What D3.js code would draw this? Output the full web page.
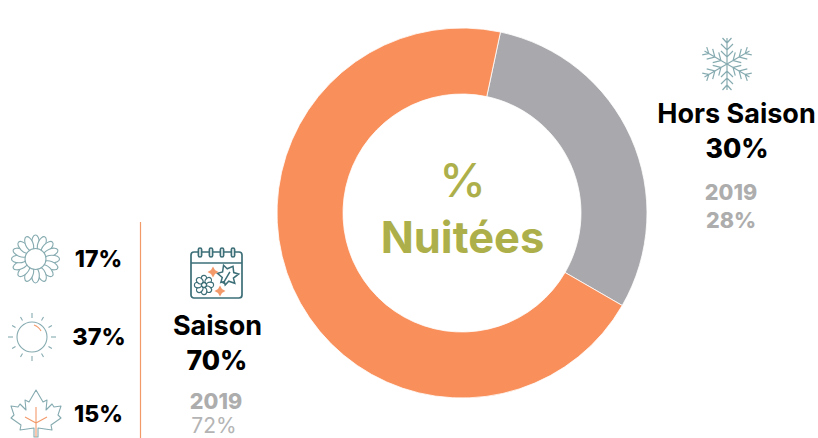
<!DOCTYPE html>
<html><head><meta charset="utf-8">
<script src="https://cdnjs.cloudflare.com/ajax/libs/d3/7.8.5/d3.min.js"></script>
<style>html,body{margin:0;padding:0;background:#fff}svg{display:block}text{font-family:Inter,"Noto Sans",sans-serif;text-anchor:middle}</style>
</head><body><svg id="c" width="818" height="438"></svg>
<script>
const segments = ["Hors Saison","Saison"];
const shares = [30,70];
const segmentColors = ["#a9a8ac","#f98f5a"];
const startDeg = 12;
const centerLines = ["%","Nuitées"];
const seasonShares = ["17%","37%","15%"];
const teal="#3d6f78", paleTeal="#86abb0", orange="#f39a6b";
const svg=d3.select("#c");
const cx=462,cy=213;
const pie=d3.pie().sort(null).startAngle(startDeg*Math.PI/180).endAngle((startDeg+360)*Math.PI/180);
const arc=d3.arc().innerRadius(119).outerRadius(185);
svg.append("g").attr("transform",`translate(${cx},${cy})`).selectAll("path").data(pie(shares)).join("path")
  .attr("d",arc).attr("fill",(d,i)=>segmentColors[i]).attr("stroke","#fff").attr("stroke-width",.8);

function t(x,y,s,size,fill,w,font){return svg.append("text").attr("x",x).attr("y",y).attr("font-size",size).attr("fill",fill).attr("font-weight",w).attr("font-family",font||null).text(s);}
// centre
t(462.5,197,centerLines[0],47,"#adb04a",500,"Lato");
t(462.5,253,centerLines[1],43.5,"#adb04a",700,"Lato");
// Hors saison
t(736.5,123,"Hors Saison",27,"#000",700);
t(737,158,"30%",26.5,"#000",800);
t(731,200,"2019",21.5,"#adadad",800);
t(731,228,"28%",21.5,"#adadad",800);
// Saison
t(217.5,335,"Saison",27,"#000",700);
t(217,370,"70%",26.5,"#000",800);
t(216,409,"2019",21.5,"#adadad",800);
t(214,432.5,"72%",21,"#b4b4b4",400);
// season shares
t(98.5,267,seasonShares[0],23,"#000",800);
t(99,345,seasonShares[1],23.5,"#000",800);
t(98.5,422,seasonShares[2],23,"#000",800);
// divider
svg.append("line").attr("x1",140.5).attr("x2",140.5).attr("y1",222).attr("y2",438).attr("stroke",orange).attr("stroke-width",1.2);

// snowflake
const sn=svg.append("g").attr("transform","translate(727,64)").attr("stroke",paleTeal).attr("stroke-width",1.2).attr("fill","none");
d3.range(6).forEach(i=>{const g=sn.append("g").attr("transform",`rotate(${i*60})`);
 g.append("path").attr("d","M0,0V-26M-4.5,-26L0,-21L4.5,-26M-6,-20L0,-14L6,-20M-6,-13L0,-7L6,-13");
});
// flower
const fl=svg.append("g").attr("transform","translate(35.5,259)").attr("stroke",paleTeal).attr("stroke-width",1.1).attr("fill","#fff");
d3.range(16).forEach(i=>fl.append("ellipse").attr("transform",`rotate(${i*360/16}) translate(0,-16.5)`).attr("rx",3.8).attr("ry",7.5));
fl.append("circle").attr("r",10.5);
// sun
const su=svg.append("g").attr("transform","translate(32,337)").attr("stroke",paleTeal).attr("stroke-width",1.1).attr("fill","none");
su.append("circle").attr("r",15);
d3.range(12).forEach(i=>su.append("line").attr("transform",`rotate(${i*30})`).attr("y1",-19).attr("y2",i%3==0?-24:-23));
su.append("path").attr("d","M2,-12A12,12 0 0 1 9,-6").attr("stroke",orange);
// maple
const ma=svg.append("g").attr("transform","translate(36,415)").attr("stroke",paleTeal).attr("stroke-width",1.1).attr("fill","none").attr("stroke-linejoin","round");
ma.append("path").attr("d","M0,-25L7,-13L11,-15L10,-5L16,-11L18,-8L25,-9L22,0L25,3L15,10L16,15L2,13L2,22L-2,22L-2,13L-16,15L-15,10L-25,3L-22,0L-25,-9L-18,-8L-16,-11L-10,-5L-11,-15L-7,-13Z");
ma.append("path").attr("d","M0,22V-8M0,8L-11,2M0,8L11,2").attr("stroke",orange);
// calendar
const ca=svg.append("g").attr("transform","translate(191,248)").attr("stroke",teal).attr("stroke-width",1.7).attr("fill","none");
ca.append("rect").attr("x",0).attr("y",4).attr("width",51).attr("height",46).attr("rx",3);
ca.append("line").attr("x1",0).attr("x2",51).attr("y1",15).attr("y2",15);
[9,20,31,42].forEach(x=>ca.append("rect").attr("x",x-1.6).attr("y",0).attr("width",3.2).attr("height",9).attr("rx",1.6).attr("fill","#fff"));
const f2=ca.append("g").attr("transform","translate(13,37)").attr("stroke-width",1.2);
d3.range(8).forEach(i=>f2.append("ellipse").attr("transform",`rotate(${i*45}) translate(0,-6)`).attr("rx",2.8).attr("ry",3.6).attr("fill","#fff"));
f2.append("circle").attr("r",2.6);
ca.append("path").attr("stroke-width",1.2).attr("transform","translate(37,27) rotate(30) scale(1.25)").attr("d","M0,-8L3,-4L7,-5L5,0L8,3L3,4L2,8L0,6L-2,8L-3,4L-8,3L-5,0L-7,-5L-3,-4Z M0,8V-3");
[[22,24],[29,43]].forEach(p=>ca.append("path").attr("transform",`translate(${p[0]},${p[1]}) scale(1.1)`).attr("fill",orange).attr("stroke","none").attr("d","M0,-5L1.8,-1.8L5,0L1.8,1.8L0,5L-1.8,1.8L-5,0L-1.8,-1.8Z"));
</script></body></html>
